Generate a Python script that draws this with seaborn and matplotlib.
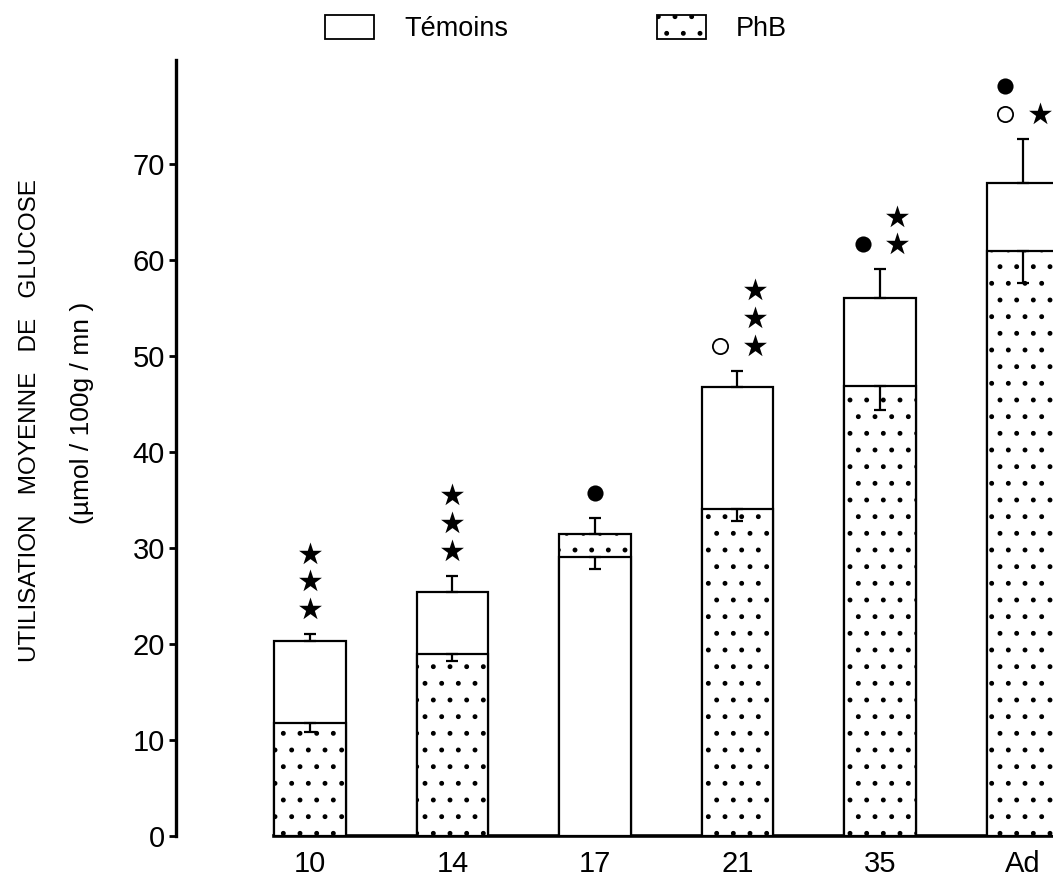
import matplotlib
matplotlib.use("Agg")
import matplotlib.pyplot as plt
from matplotlib.patches import Patch
import numpy as np
import pandas as pd
import seaborn as sns

# ---- data ----
ages = ["10", "14", "17", "21", "35", "Ad"]
temoins = [20.3, 25.4, 29.1, 46.7, 56.0, 68.0]
temoins_err = [0.7, 1.7, 1.3, 1.7, 3.0, 4.6]
phb = [11.8, 19.0, 31.4, 34.1, 46.9, 60.9]
phb_err = [1.0, 0.8, 1.7, 1.3, 2.5, 3.3]
yticks = [0, 10, 20, 30, 40, 50, 60, 70]
# significance symbols per age: (symbol, column, row)
signif = {
    "10": [("star", 0, 0), ("star", 0, 1), ("star", 0, 2)],
    "14": [("star", 0, 0), ("star", 0, 1), ("star", 0, 2)],
    "17": [("dot", 0, 0)],
    "21": [("open", -1, 0), ("star", 1, 0), ("star", 1, 1), ("star", 1, 2)],
    "35": [("dot", -1, 0), ("star", 1, 0), ("star", 1, 1)],
    "Ad": [("open", -1, 0), ("star", 1, 0), ("dot", -1, 1)],
}

sns.set_style("ticks")
plt.rcParams["font.family"] = ["Liberation Sans", "DejaVu Sans"]
plt.rcParams["hatch.color"] = "black"
plt.rcParams["hatch.linewidth"] = 1.1
plt.rcParams["text.color"] = "black"
plt.rcParams["xtick.color"] = "black"
plt.rcParams["ytick.color"] = "black"
plt.rcParams["axes.edgecolor"] = "black"

fig = plt.figure(figsize=(10.53, 8.89), dpi=100)
ax = fig.add_axes([176 / 1053, 53 / 889, 1 - 176 / 1053, 776 / 889])

df_t = pd.DataFrame({"age": ages, "val": temoins})
df_p = pd.DataFrame({"age": ages, "val": phb})
sns.barplot(data=df_t, x="age", y="val", order=ages, color="white",
            edgecolor="black", linewidth=1.6, width=0.5, errorbar=None,
            saturation=1, ax=ax)
sns.barplot(data=df_p, x="age", y="val", order=ages, color="white",
            edgecolor="black", linewidth=1.6, width=0.5, errorbar=None,
            saturation=1, ax=ax)

bars_t = ax.containers[0]
bars_p = ax.containers[1]
for i in range(len(ages)):
    pt, pp = bars_t[i], bars_p[i]
    pp.set_hatch(".")
    if phb[i] > temoins[i]:
        pp.set_zorder(2)
        pt.set_zorder(3)
    else:
        pt.set_zorder(2)
        pp.set_zorder(3)

# error bars: the taller series goes up, the shorter goes down
x = np.arange(len(ages))
t = np.array(temoins); te = np.array(temoins_err)
p = np.array(phb); pe = np.array(phb_err)
t_up = t > p
ax.errorbar(x, t, yerr=[np.where(t_up, 0, te), np.where(t_up, te, 0)],
            fmt="none", ecolor="black", elinewidth=1.6, capsize=4.3,
            capthick=1.6, zorder=4)
ax.errorbar(x, p, yerr=[np.where(t_up, pe, 0), np.where(t_up, 0, pe)],
            fmt="none", ecolor="black", elinewidth=1.6, capsize=4.3,
            capthick=1.6, zorder=4)

# significance markers above the upper cap
caps = np.maximum(t + np.where(t_up, te, 0), p + np.where(t_up, 0, pe))
for i, a in enumerate(ages):
    for sym, col, row in signif[a]:
        xs = i + 0.12 * col
        ys = caps[i] + 2.6 + 2.9 * row
        if sym == "star":
            ax.scatter([xs], [ys], marker="*", s=300, color="black",
                       linewidths=0, zorder=5, clip_on=False)
        elif sym == "dot":
            ax.scatter([xs], [ys], marker="o", s=135, color="black",
                       linewidths=0, zorder=5, clip_on=False)
        else:
            ax.scatter([xs], [ys], marker="o", s=120, facecolors="white",
                       edgecolors="black", linewidths=1.3, zorder=5,
                       clip_on=False)

ax.set_xlim(-0.94, 5.214)
ax.set_ylim(0, 80.8)
ax.set_yticks(yticks)
ax.set_yticklabels([str(v) for v in yticks], fontsize=21)
ax.tick_params(axis="y", length=5, width=2, pad=3, direction="out")
ax.tick_params(axis="x", length=0, pad=10, labelsize=21)
ax.set_xlabel("")
ax.set_ylabel("")
for side in ["top", "right"]:
    ax.spines[side].set_visible(False)
ax.spines["left"].set_linewidth(2.4)
ax.spines["bottom"].set_linewidth(2.6)
ax.spines["bottom"].set_bounds(-0.25, 5.214)

fig.text(30 / 1053, 1 - 421 / 889,
         "UTILISATION   MOYENNE   DE   GLUCOSE",
         rotation=90, ha="center", va="center", fontsize=17.5)
fig.text(82 / 1053, 1 - 413 / 889, "(µmol / 100g / mn )",
         rotation=90, ha="center", va="center", fontsize=19)

handles = [Patch(facecolor="white", edgecolor="black", linewidth=1.3,
                 label="Témoins"),
           Patch(facecolor="white", edgecolor="black", linewidth=1.3,
                 hatch=".", label="PhB")]
fig.legend(handles=handles, loc="center", bbox_to_anchor=(0.528, 0.968),
           ncol=2, frameon=False, fontsize=19.5, handlelength=1.8,
           handleheight=1.0, handletextpad=1.1, columnspacing=5.5)

fig.savefig("out.png", dpi=100)
